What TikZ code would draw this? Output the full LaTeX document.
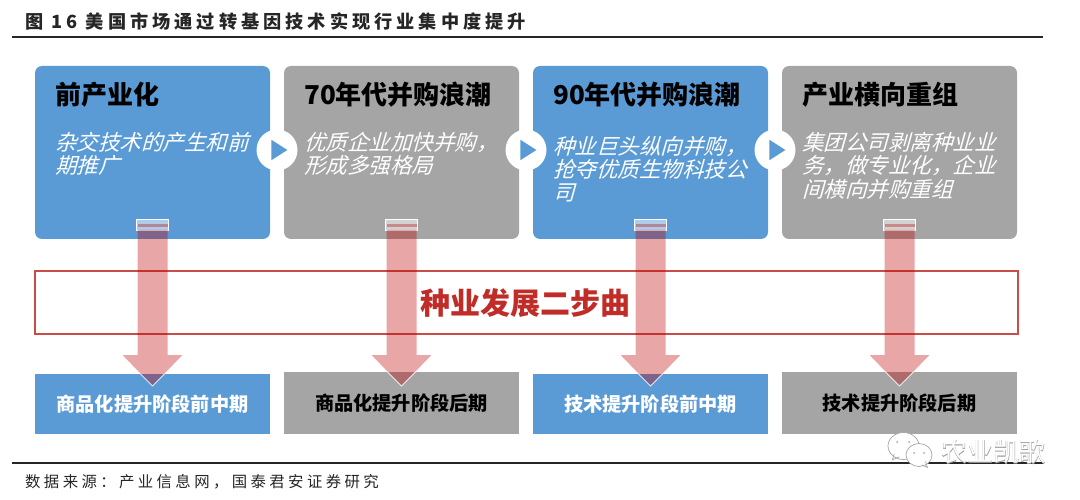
\documentclass[tikz,border=0pt]{standalone}
\usepackage{fontspec}
\usetikzlibrary{arrows.meta,shapes.geometric,positioning,calc}
\setmainfont{Noto Sans CJK SC}
\newfontfamily\cjkslant[FakeSlant=0.28]{Noto Sans CJK SC}
\newfontfamily\cjkwide[LetterSpace=22]{Noto Sans CJK SC}
\newfontfamily\cjkfat[FakeBold=1.4]{Noto Sans CJK SC}
\definecolor{sdblue}{RGB}{91,155,213}
\definecolor{sdgray}{RGB}{165,165,165}
\definecolor{sdred}{RGB}{192,0,0}
\definecolor{sdtitle}{RGB}{192,44,40}
\definecolor{sdtext}{RGB}{38,38,38}
\tikzstyle{card} = [rectangle, rounded corners=7pt, minimum width=235pt, minimum height=173pt, inner sep=0pt, outer sep=0pt]
\tikzstyle{stage} = [rectangle, minimum width=235pt, inner sep=0pt, outer sep=0pt, font=\bfseries\fontsize{19.2}{22}\selectfont]
\tikzstyle{cardhead} = [anchor=west, inner sep=0pt, font=\bfseries\fontsize{26}{30}\selectfont, text=black]
\tikzstyle{cardtext} = [anchor=north west, align=left, inner sep=0pt, text=white, font=\cjkslant\fontsize{21.5}{23.3}\selectfont]
\tikzstyle{nextmark} = [circle, fill=white, minimum size=41pt, inner sep=0pt]
\tikzstyle{nexttip} = [isosceles triangle, isosceles triangle apex angle=65, fill=sdblue, minimum height=16pt, inner sep=0pt]
\tikzstyle{bigarrow} = [line width=30pt, sdred, -{Triangle[length=31pt,width=58pt]}]
\tikzstyle{topband} = [rectangle, minimum width=32pt, minimum height=11pt, inner sep=0pt, draw=white, fill=white, fill opacity=0.5]
\tikzstyle{midband} = [rectangle, minimum width=30pt, minimum height=3pt, inner sep=0pt, fill=sdred, fill opacity=0.35]
\tikzstyle{wxbubble} = [ellipse, draw=gray!70, fill=white, line width=0.7pt, inner sep=0pt]

\begin{document}
\begin{tikzpicture}[x=1pt,y=-1pt]
\path[use as bounding box] (0,0) rectangle (1080,500);

% Title and rules
\node (title) [anchor=west, inner sep=0pt, text=sdtext, font=\cjkwide\bfseries\fontsize{18.2}{21}\selectfont] at (25,22) {图 16 美国市场通过转基因技术实现行业集中度提升};
\coordinate (topleft) at (12,37.5);
\coordinate (topright) at (1043,37.5);
\coordinate (botleft) at (12,463);
\coordinate (botright) at (1043,463);
\draw[line width=2pt, sdtext] (topleft) -- (topright);
\draw[line width=2pt, sdtext] (botleft) -- (botright);
\node (source) [anchor=west, inner sep=0pt, text=sdtext, font=\cjkwide\fontsize{15.4}{18}\selectfont] at (25,482) {数据来源：产业信息网，国泰君安证券研究};

% Four upper cards
\node (card1) [card, fill=sdblue] at (152.5,152.5) {};
\node (card2) [card, fill=sdgray, right of=card1, node distance=249pt] {};
\node (card3) [card, fill=sdblue, right of=card2, node distance=249pt] {};
\node (card4) [card, fill=sdgray, right of=card3, node distance=249pt] {};

\node (head1) [cardhead] at ($(card1.north west)+(20,29)$) {前产业化};
\node (head2) [cardhead] at ($(card2.north west)+(20,29)$) {70年代并购浪潮};
\node (head3) [cardhead] at ($(card3.north west)+(20,29)$) {90年代并购浪潮};
\node (head4) [cardhead] at ($(card4.north west)+(20,29)$) {产业横向重组};

\node (text1) [cardtext] at ($(card1.north west)+(20,66)$) {杂交技术的产生和前\\期推广};
\node (text2) [cardtext] at ($(card2.north west)+(20,66)$) {优质企业加快并购，\\形成多强格局};
\node (text3) [cardtext] at ($(card3.north west)+(20,70)$) {种业巨头纵向并购，\\抢夺优质生物科技公\\司};
\node (text4) [cardtext] at ($(card4.north west)+(20,66)$) {集团公司剥离种业业\\务，做专业化，企业\\间横向并购重组};

% Round marks between the cards
\node (mark1) [nextmark] at (277,150) {};
\node (mark2) [nextmark, right of=mark1, node distance=249pt] {};
\node (mark3) [nextmark, right of=mark2, node distance=249pt] {};
\node (tip1) [nexttip] at (mark1) {};
\node (tip2) [nexttip] at (mark2) {};
\node (tip3) [nexttip] at (mark3) {};

% Four lower boxes
\node (stage1) [stage, fill=sdblue, minimum height=60pt, text=white, below of=card1, node distance=251.5pt] {商品化提升阶段前中期};
\node (stage2) [stage, fill=sdgray, minimum height=62pt, text=black, below of=card2, node distance=250.5pt] {商品化提升阶段后期};
\node (stage3) [stage, fill=sdblue, minimum height=60pt, text=white, below of=card3, node distance=251.5pt] {技术提升阶段前中期};
\node (stage4) [stage, fill=sdgray, minimum height=62pt, text=black, below of=card4, node distance=250.5pt] {技术提升阶段后期};

% Red band across the middle
\node (band) [rectangle, draw=sdtitle!85, line width=1.3pt, minimum width=983pt, minimum height=63pt, inner sep=0pt] at (526.5,302.5) {};
\node (bandtext) [text=sdtitle, font=\bfseries\fontsize{30}{34}\selectfont, inner sep=0pt] at (525,303) {种业发展二步曲};

% Pale arrows from card to box
\foreach \n/\s in {1/12,2/14,3/12,4/14} {
  \node (bar\n) [topband] at ($(card\n.south)+(0,-14.5)$) {};
  \node (stripe\n) [midband] at ($(card\n.south)+(0,-13.5)$) {};
  \begin{scope}[transparency group, opacity=0.35]
    \draw[bigarrow, shorten <=-9pt, shorten >=-\s pt] (card\n) -- (stage\n);
  \end{scope}
  \coordinate (end\n) at ($(stage\n.north)+(0,\s)$);
  \draw[white, line width=0.8pt, opacity=0.8] ($(end\n)+(-\s,-\s)$) -- (end\n) -- ($(end\n)+(\s,-\s)$);
}

% Watermark
\node (wxbig) [wxbubble, minimum width=31pt, minimum height=27pt] at (903.5,446) {};
\draw[gray!70, line width=0.7pt] ($(wxbig.south west)+(2,-2)$) -- ++(-2,6) -- ++(7,-3);
\node (wxsmall) [wxbubble, minimum width=26pt, minimum height=23pt] at (919,455) {};
\draw[gray!70, line width=0.7pt] ($(wxsmall.south east)+(-3,-2)$) -- ++(2,6) -- ++(-6,-2.5);
\foreach \p/\a/\b in {d1/897/442,d2/909/442,d3/914/453,d4/924/453} {
  \node (\p) [circle, fill=gray!70, minimum size=2pt, inner sep=0pt] at (\a,\b) {};
}
\node (markshade) [anchor=west, inner sep=0pt, text=gray!75, font=\cjkfat\fontsize{26}{30}\selectfont] at (941,452) {农业凯歌};
\node (marktext) [anchor=west, inner sep=0pt, text=white, font=\fontsize{26}{30}\selectfont] at (941,452) {农业凯歌};
\end{tikzpicture}
\end{document}
